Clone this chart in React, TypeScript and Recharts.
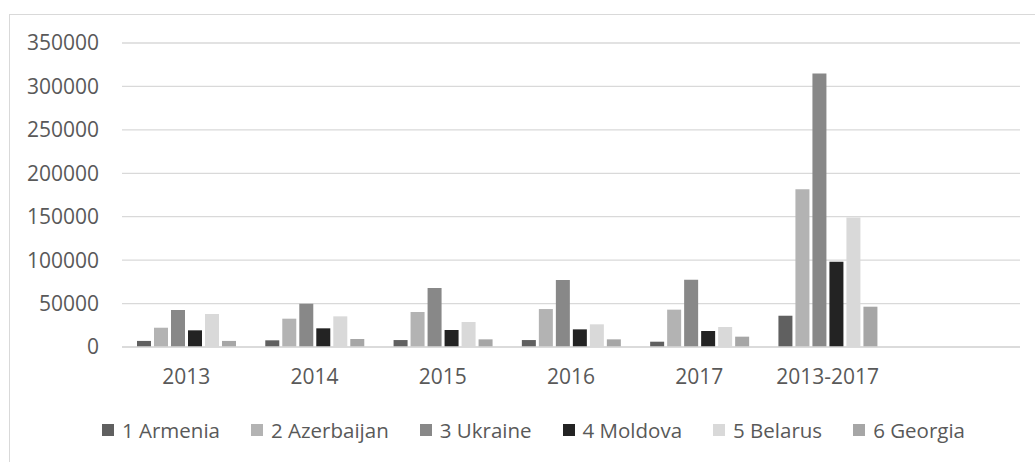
import { Bar, BarChart, CartesianGrid, Legend, XAxis, YAxis } from "recharts";

const categories = ["2013", "2014", "2015", "2016", "2017", "2013-2017", ""];

const armenia = [7000, 7700, 8000, 8000, 6100, 36000, null];
const azerbaijan = [22200, 32600, 40300, 43700, 43000, 181500, null];
const ukraine = [42600, 49800, 67900, 77100, 77400, 315000, null];
const moldova = [19200, 21500, 19600, 20300, 18400, 98200, null];
const belarus = [38000, 35300, 28800, 26100, 23000, 149200, null];
const georgia = [7000, 9200, 8800, 8800, 11900, 46400, null];

const yTicks = [0, 50000, 100000, 150000, 200000, 250000, 300000, 350000];

const SERIES = [
  { key: "armenia", name: "1 Armenia", color: "#606060", values: armenia },
  { key: "azerbaijan", name: "2 Azerbaijan", color: "#b3b3b3", values: azerbaijan },
  { key: "ukraine", name: "3 Ukraine", color: "#888888", values: ukraine },
  { key: "moldova", name: "4 Moldova", color: "#232323", values: moldova },
  { key: "belarus", name: "5 Belarus", color: "#d9d9d9", values: belarus },
  { key: "georgia", name: "6 Georgia", color: "#a6a6a6", values: georgia }
];

const data = categories.map((cat, i) => {
  const row: Record<string, string | number | null> = { cat };
  SERIES.forEach((s) => {
    row[s.key] = s.values[i];
  });
  return row;
});

const FONT = "'Open Sans', sans-serif";
const TEXT = "#595959";
const LINE = "#d9d9d9";

function LegendBox() {
  return (
    <div style={{ display: "flex", justifyContent: "center", alignItems: "center", height: 24 }}>
      {SERIES.map((s, i) => (
        <div
          key={s.key}
          style={{ display: "flex", alignItems: "center", marginRight: i < SERIES.length - 1 ? 31 : 0 }}
        >
          <span style={{ width: 12, height: 12, background: s.color, marginRight: 8, display: "inline-block" }} />
          <span style={{ fontFamily: FONT, fontSize: 20.5, color: TEXT, lineHeight: "24px" }}>{s.name}</span>
        </div>
      ))}
    </div>
  );
}

export default function App() {
  return (
    <div style={{ position: "absolute", left: 0, top: 0, width: 1035, height: 462, overflow: "hidden", background: "#fff" }}>
      <div
        style={{
          position: "absolute",
          left: 9,
          top: 14,
          width: 1100,
          height: 500,
          borderLeft: `1.5px solid ${LINE}`,
          borderTop: `1.5px solid ${LINE}`
        }}
      />
      <div style={{ position: "absolute", left: 0, top: 0 }}>
        <BarChart
          width={1035}
          height={462}
          data={data}
          margin={{ top: 43, right: 15, left: 0, bottom: 85 }}
          barSize={14}
          barGap={3}
        >
          <CartesianGrid vertical={false} stroke={LINE} strokeWidth={1.3} />
          <XAxis
            dataKey="cat"
            height={30}
            axisLine={{ stroke: LINE, strokeWidth: 1.3 }}
            tickLine={false}
            tickSize={0}
            tickMargin={22}
            tick={{ fontFamily: FONT, fontSize: 21, fill: TEXT }}
            interval={0}
          />
          <YAxis
            width={122}
            domain={[0, 350000]}
            ticks={yTicks}
            axisLine={false}
            tickLine={false}
            tickSize={0}
            tickMargin={23}
            tick={{ fontFamily: FONT, fontSize: 21, fill: TEXT }}
          />
          <Legend
            layout="horizontal"
            verticalAlign="middle"
            align="center"
            wrapperStyle={{ position: "absolute", left: 0, top: 418, width: 1067 }}
            content={() => <LegendBox />}
          />
          {SERIES.map((s) => (
            <Bar key={s.key} dataKey={s.key} name={s.name} fill={s.color} isAnimationActive={false} />
          ))}
        </BarChart>
      </div>
    </div>
  );
}
